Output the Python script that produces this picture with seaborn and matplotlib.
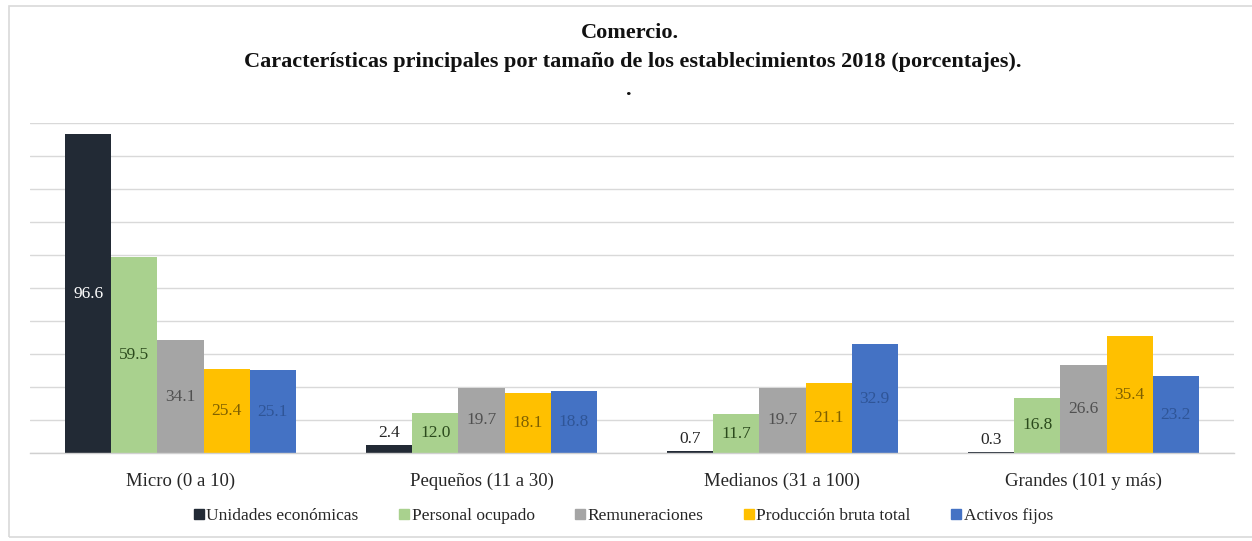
import matplotlib
matplotlib.use("Agg")
import matplotlib.pyplot as plt
import seaborn as sns
import pandas as pd
from matplotlib.patches import Rectangle
from matplotlib.lines import Line2D

categories = ["Micro (0 a 10)", "Pequeños (11 a 30)", "Medianos (31 a 100)", "Grandes (101 y más)"]
series = ["Unidades económicas", "Personal ocupado", "Remuneraciones", "Producción bruta total", "Activos fijos"]
unidades = [96.6, 2.4, 0.7, 0.3]
personal = [59.5, 12.0, 11.7, 16.8]
remuneraciones = [34.1, 19.7, 19.7, 26.6]
produccion = [25.4, 18.1, 21.1, 35.4]
activos = [25.1, 18.8, 32.9, 23.2]

colors = ["#222a35", "#a9d18e", "#a5a5a5", "#ffc000", "#4472c4"]
label_colors = ["#ffffff", "#2b4a1c", "#505050", "#7f6000", "#2f5597"]

values = [unidades, personal, remuneraciones, produccion, activos]
rows = []
for s, vals in zip(series, values):
    for c, v in zip(categories, vals):
        rows.append({"Tamaño": c, "Serie": s, "Valor": v})
df = pd.DataFrame(rows)

sns.set_theme(style="white")
plt.rcParams["font.family"] = ["Liberation Serif", "DejaVu Serif"]

fig = plt.figure(figsize=(12.52, 5.41), dpi=100)
ax = fig.add_axes([30 / 1252, 1 - 453 / 541, 1204 / 1252, 330 / 541])

sns.barplot(data=df, x="Tamaño", y="Valor", hue="Serie", order=categories,
            hue_order=series, palette=colors, width=0.765, gap=0,
            saturation=1, ax=ax, legend=False, errorbar=None, linewidth=0)

ax.set_xlim(-0.5, 3.5)
ax.set_ylim(0, 100)
ax.set_yticks(range(0, 101, 10))
ax.set_yticklabels([])
ax.tick_params(axis="y", length=0)
ax.yaxis.grid(True, color="#d9d9d9", linewidth=1)
ax.set_axisbelow(True)
for side in ["top", "right", "left"]:
    ax.spines[side].set_visible(False)
ax.spines["bottom"].set_color("#d0d0d0")
ax.spines["bottom"].set_linewidth(1)
ax.set_xlabel("")
ax.set_ylabel("")
ax.tick_params(axis="x", length=0, pad=14, labelsize=13.5, labelcolor="#262626")
ax.set_xticks(range(len(categories)))
ax.set_xticklabels(categories)
ax.set_xticks([-0.5, 0.5, 1.5, 2.5, 3.5], minor=True)
ax.tick_params(axis="x", which="minor", length=4, color="#d0d0d0", width=1)

for i, cont in enumerate(ax.containers):
    for j, patch in enumerate(cont.patches):
        v = values[i][j]
        xc = patch.get_x() + patch.get_width() / 2
        if v < 5:
            ax.annotate(f"{v:.1f}", (xc, v), xytext=(0, 3), textcoords="offset points",
                        ha="center", va="bottom", fontsize=12.5, color="#262626")
        else:
            ax.text(xc, v / 2, f"{v:.1f}", ha="center", va="center",
                    fontsize=12.5, color=label_colors[i])

fig.text(0.503, 1 - 33 / 541, "Comercio.", ha="center", va="center",
         fontsize=16, fontweight="bold", color="#111111")
fig.text(0.505, 1 - 62 / 541,
         "Características principales por tamaño de los establecimientos 2018 (porcentajes).",
         ha="center", va="center", fontsize=16, fontweight="bold", color="#111111")
fig.text(0.502, 1 - 90 / 541, ".", ha="center", va="center",
         fontsize=16, fontweight="bold", color="#111111")

handles = [Line2D([0], [0], marker="s", linestyle="none", markersize=7,
                  markerfacecolor=c, markeredgecolor=c) for c in colors]
fig.legend(handles, series, loc="center", bbox_to_anchor=(0.497, 1 - 516 / 541),
           ncol=5, frameon=False, fontsize=12.5, handletextpad=0.05,
           columnspacing=2.2, handlelength=0.8, labelcolor="#262626")

fig.add_artist(Rectangle((9 / 1252, 1 - 537 / 541), 1.2, 531 / 541,
                         transform=fig.transFigure, fill=False,
                         edgecolor="#d9d9d9", linewidth=1.2))

fig.savefig("out.png", dpi=100)
